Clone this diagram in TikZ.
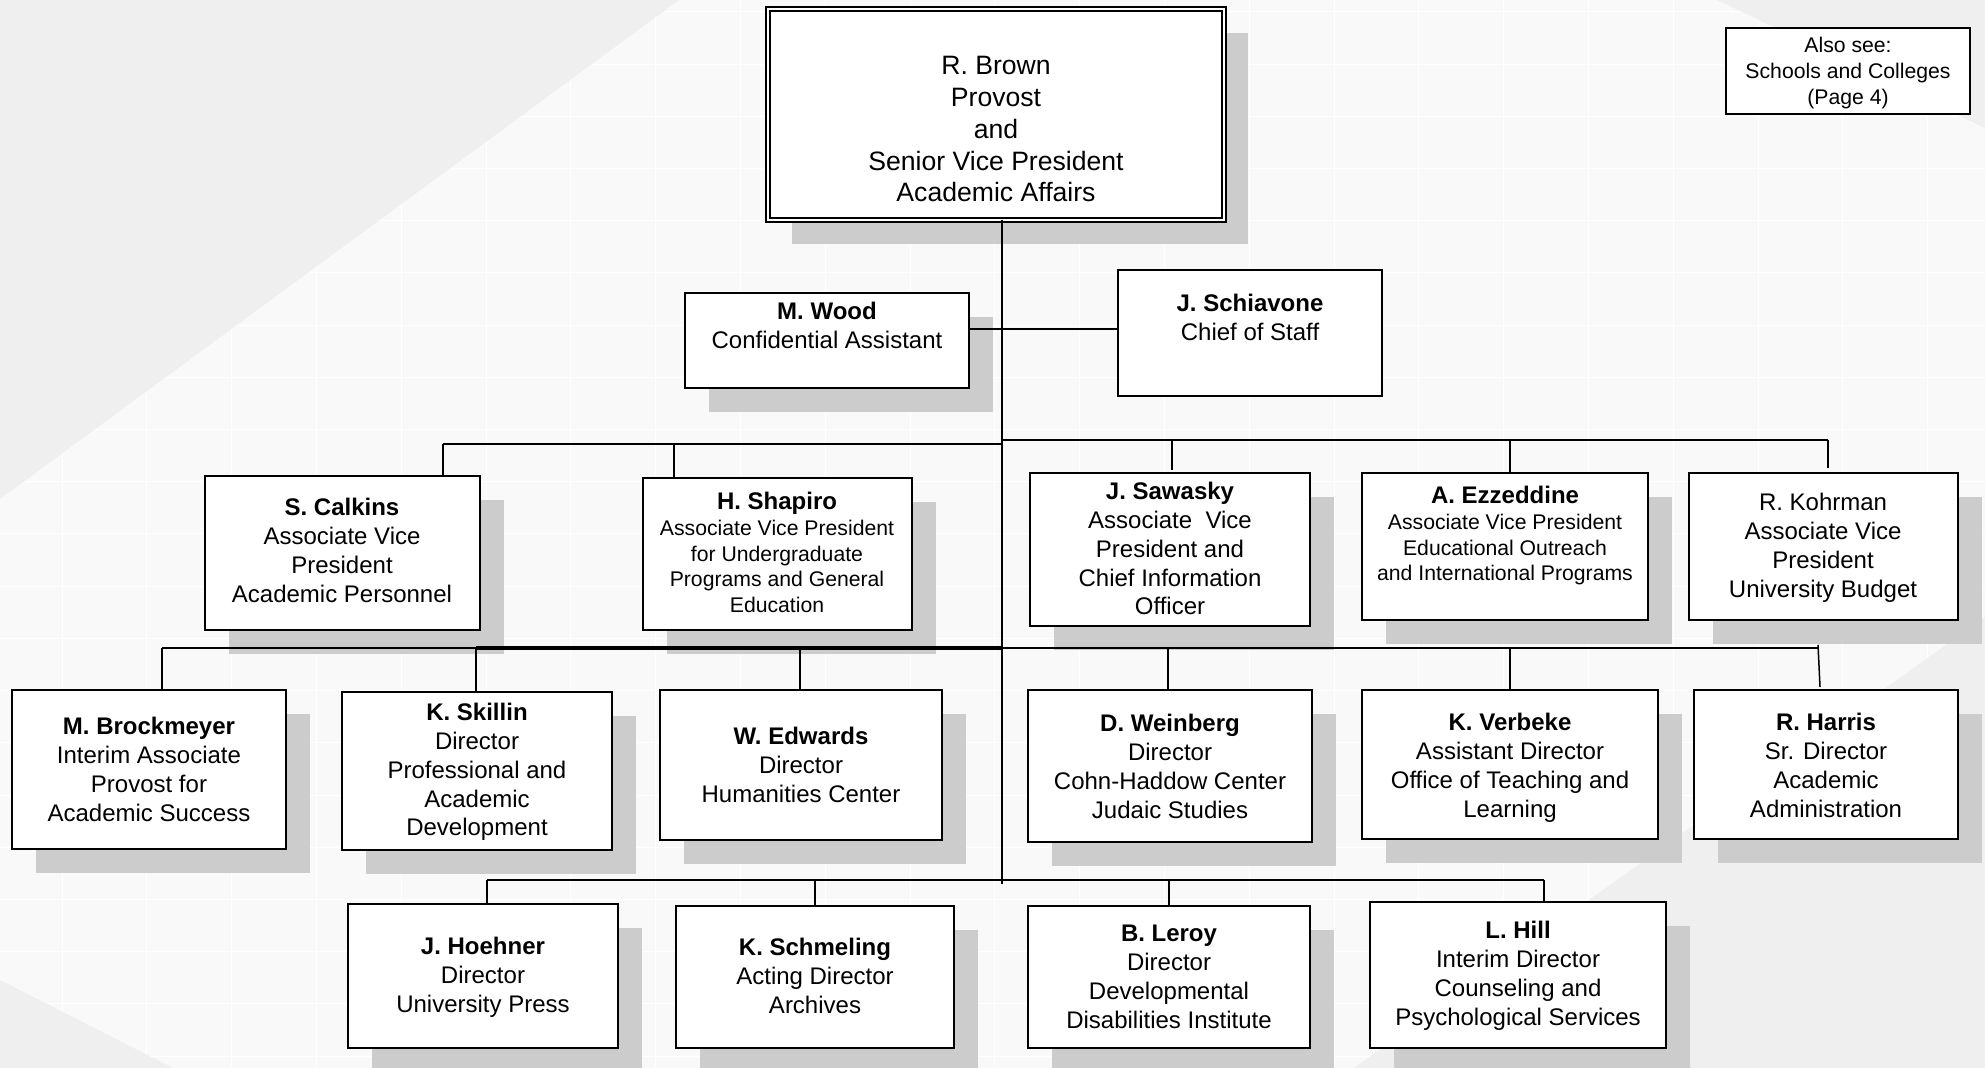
\documentclass[tikz,border=0pt]{standalone}
\usepackage{fontspec}
\setmainfont{Liberation Sans}
\usetikzlibrary{calc}
\pgfdeclarelayer{back}
\pgfdeclarelayer{shade}
\pgfsetlayers{back,shade,main}
\definecolor{bglight}{HTML}{F9F9F9}
\definecolor{bgdark}{HTML}{EFEFEF}
\definecolor{shadowc}{HTML}{CCCCCC}
\newcommand\nm[1]{{\fontsize{12}{14.4}\selectfont\bfseries #1}}
\tikzset{
  box/.style={draw=black, line width=1pt, fill=white, inner sep=0pt, outer sep=0pt},
  txt/.style={align=center, inner sep=0pt, anchor=north, font=\fontsize{12}{14.4}\selectfont},
  txtsm/.style={txt, font=\fontsize{10.6}{12.85}\selectfont},
  txtbig/.style={txt, font=\fontsize{13.3}{15.9}\selectfont},
  ln/.style={draw=black, line width=0.9pt},
  shadebox/.style={fill=shadowc, draw=none},
  gridln/.style={white, line width=0.5pt},
}
\newcommand\orgbox[6][]{%
  \node[box,#1,minimum width={(#5-#3)*0.5pt},minimum height={(#6-#4)*0.5pt}] (#2) at ({(#3+#5)/2},{(#4+#6)/2}) {};%
}
\newcommand\shadowof[1]{\fill[shadebox] ([shift={(24,24)}]#1.south west) rectangle ([shift={(24,24)}]#1.north east);}
\begin{document}
\begin{tikzpicture}[x=0.5pt,y=-0.5pt]
\useasboundingbox (0,0) rectangle (1985,1068);
% background
\begin{pgfonlayer}{back}
  \fill[bglight] (0,0) rectangle (1985,1068);
  \foreach \i in {0,...,22} \draw[gridln] ({62+84.8*\i},0) -- ({62+84.8*\i},1068);
  \foreach \j in {0,...,20} \draw[gridln] (0,{12+52.2*\j}) -- (1985,{12+52.2*\j});
  \fill[bgdark] (1717,0) -- (1985,0) -- (1985,128) -- cycle;
  \fill[bgdark] (1985,617) -- (1354,1068) -- (1985,1068) -- cycle;
  \fill[bgdark] (0,980) -- (173,1068) -- (0,1068) -- cycle;
  \fill[bgdark] (0,0) -- (679,0) -- (0,499) -- cycle;
\end{pgfonlayer}

% boxes
\orgbox[line width=0.75pt, double, double distance=1.35pt]{prov}{768}{9}{1224}{220}
\orgbox{wood}{685}{293}{969}{388}
\orgbox{schiavone}{1118}{270}{1382}{396}
\orgbox{also}{1726}{28}{1970}{114}
\orgbox{calkins}{205}{476}{480}{630}
\orgbox{shapiro}{643}{478}{912}{630}
\orgbox{sawasky}{1030}{473}{1310}{626}
\orgbox{ezzeddine}{1362}{473}{1648}{620}
\orgbox{kohrman}{1689}{473}{1958}{620}
\orgbox{brock}{12}{690}{286}{849}
\orgbox{skillin}{342}{692}{612}{850}
\orgbox{edwards}{660}{690}{942}{840}
\orgbox{weinberg}{1028}{690}{1312}{842}
\orgbox{verbeke}{1362}{690}{1658}{839}
\orgbox{harris}{1694}{690}{1958}{839}
\orgbox{hoehner}{348}{904}{618}{1048}
\orgbox{schmeling}{676}{906}{954}{1048}
\orgbox{leroy}{1028}{906}{1310}{1048}
\orgbox{hill}{1370}{902}{1666}{1048}

% shadows
\begin{pgfonlayer}{shade}
  \foreach \b in {prov,wood,calkins,shapiro,sawasky,ezzeddine,kohrman,brock,skillin,edwards,weinberg,verbeke,harris,hoehner,schmeling,leroy,hill}
    {\shadowof{\b}}
\end{pgfonlayer}

% texts
\node[txtbig] (prov-t) at (996,56) {R. Brown\\Provost\\and\\Senior Vice President\\Academic Affairs};
\node[txt] (wood-t) at (827,302) {\nm{M. Wood}\\Confidential Assistant};
\node[txt] (schiavone-t) at (1250,294) {\nm{J. Schiavone}\\Chief of Staff};
\node[txtsm] (also-t) at (1848,37) {Also see:\\Schools and Colleges\\(Page 4)};
\node[txt] (calkins-t) at (342,498) {\nm{S. Calkins}\\Associate Vice\\President\\Academic Personnel};
\node[txtsm] (shapiro-t) at (777,492) {\nm{H. Shapiro}\\Associate Vice President\\for Undergraduate\\Programs and General\\Education};
\node[txt] (sawasky-t) at (1170,482) {\nm{J. Sawasky}\\Associate\ \ Vice\\President and\\Chief Information\\Officer};
\node[txtsm] (ezzeddine-t) at (1505,486) {\nm{A. Ezzeddine}\\Associate Vice President\\Educational Outreach\\and International Programs};
\node[txt] (kohrman-t) at (1823,493) {R. Kohrman\\Associate Vice\\President\\University Budget};
\node[txt] (brock-t) at (149,717) {\nm{M. Brockmeyer}\\Interim Associate\\Provost for\\Academic Success};
\node[txt] (skillin-t) at (477,703) {\nm{K. Skillin}\\Director\\Professional and\\Academic\\Development};
\node[txt] (edwards-t) at (801,727) {\nm{W. Edwards}\\Director\\Humanities Center};
\node[txt] (weinberg-t) at (1170,714) {\nm{D. Weinberg}\\Director\\Cohn-Haddow Center\\Judaic Studies};
\node[txt] (verbeke-t) at (1510,713) {\nm{K. Verbeke}\\Assistant Director\\Office of Teaching and\\Learning};
\node[txt] (harris-t) at (1826,713) {\nm{R. Harris}\\Sr. Director\\Academic\\Administration};
\node[txt] (hoehner-t) at (483,937) {\nm{J. Hoehner}\\Director\\University Press};
\node[txt] (schmeling-t) at (815,938) {\nm{K. Schmeling}\\Acting Director\\Archives};
\node[txt] (leroy-t) at (1169,925) {\nm{B. Leroy}\\Director\\Developmental\\Disabilities Institute};
\node[txt] (hill-t) at (1518,921) {\nm{L. Hill}\\Interim Director\\Counseling and\\Psychological Services};

% connectors
\coordinate (trunk) at (1002,884);
\draw[ln] (prov.south -| trunk) -- (trunk);
\coordinate (cs) at (1002,329);
\draw[ln] (wood.east |- cs) -- (schiavone.west |- cs);

\coordinate (b2a) at (443,444);
\coordinate (b2b) at (1002,444);
\coordinate (b2c) at (1002,440);
\coordinate (b2d) at (1828,440);
\coordinate (k-shapiro) at (674,444);
\coordinate (k-sawasky) at (1172,440);
\coordinate (k-ezz) at (1510,440);
\draw[ln] (b2a) -- (b2b);
\draw[ln] (b2c) -- (b2d);
\draw[ln] (b2a) -- (b2a |- calkins.north);
\draw[ln] (k-shapiro) -- (k-shapiro |- shapiro.north);
\draw[ln, shorten >=1.5pt] (k-sawasky) -- (k-sawasky |- sawasky.north);
\draw[ln] (k-ezz) -- (k-ezz |- ezzeddine.north);
\draw[ln, shorten >=2.5pt] (b2d) -- (b2d |- kohrman.north);

\coordinate (b3a) at (162,648);
\coordinate (b3t) at (476,648);
\coordinate (b3m) at (1002,648);
\coordinate (b3b) at (1819,648);
\coordinate (k-edwards) at (800,648);
\coordinate (k-weinberg) at (1168,648);
\coordinate (k-verbeke) at (1510,648);
\coordinate (k-harris) at (1818,645);
\draw[ln] (b3a) -- (b3b);
\draw[ln, line width=1.6pt] (b3t) -- (b3m);
\draw[ln] (b3a) -- (b3a |- brock.north);
\draw[ln] (b3t) -- (b3t |- skillin.north);
\draw[ln] (k-edwards) -- (k-edwards |- edwards.north);
\draw[ln] (k-weinberg) -- (k-weinberg |- weinberg.north);
\draw[ln] (k-verbeke) -- (k-verbeke |- verbeke.north);
\draw[ln, line width=0.75pt] (k-harris) -- ([shift={(-6,-3)}]harris.north);

\coordinate (b4a) at (487,880);
\coordinate (b4b) at (1544,880);
\coordinate (k-schmeling) at (815,880);
\coordinate (k-leroy) at (1169,880);
\draw[ln] (b4a) -- (b4b);
\draw[ln] (b4a) -- (b4a |- hoehner.north);
\draw[ln] (k-schmeling) -- (k-schmeling |- schmeling.north);
\draw[ln] (k-leroy) -- (k-leroy |- leroy.north);
\draw[ln] (b4b) -- (b4b |- hill.north);
\end{tikzpicture}
\end{document}
